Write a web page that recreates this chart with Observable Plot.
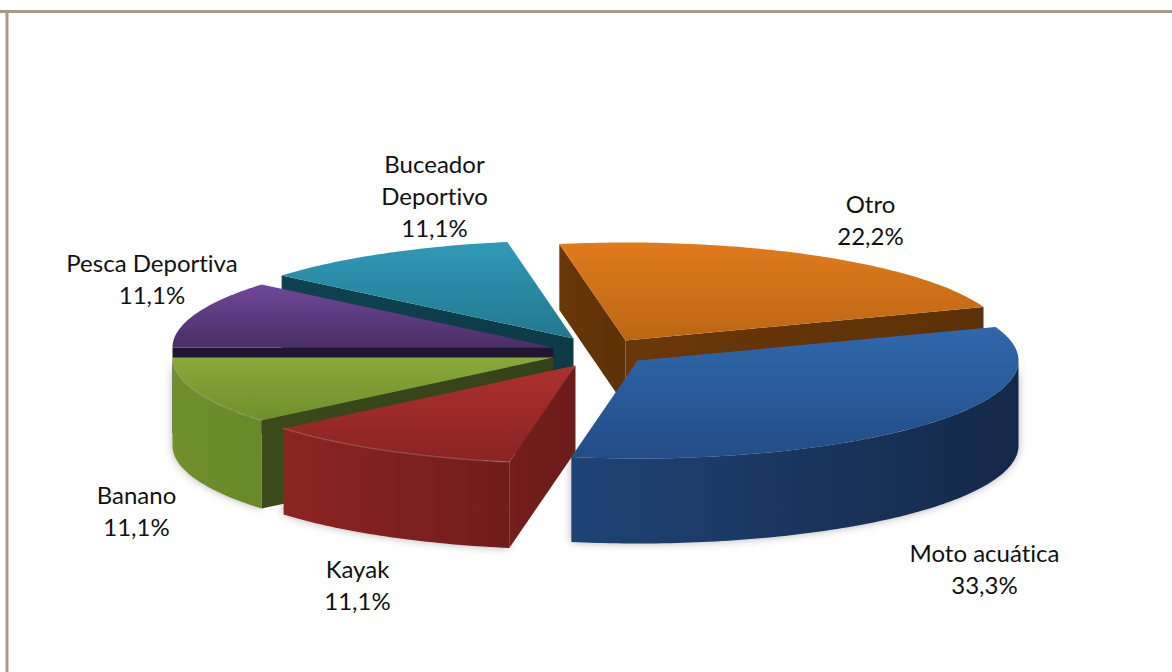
<!DOCTYPE html>
<html><head><meta charset="utf-8">
<script src="https://cdn.jsdelivr.net/npm/d3@7"></script>
<script src="https://cdn.jsdelivr.net/npm/@observablehq/plot@0.6"></script>
<style>html,body{margin:0;background:#fff}svg{display:block}svg text{font-variant-ligatures:none}</style>
</head><body><div id="chart"></div>
<script>
// Data
const categories = ["Otro","Moto acuática","Kayak","Banano","Pesca Deportiva","Buceador\nDeportivo"];
const percentages = [22.2,33.3,11.1,11.1,11.1,11.1];

// Layout / style (not data)
const W = 1172, H = 672, RX = 381, RY = 98, START = -10;
const apexX = [625,637,575,553,553,573];
const apexY = [340,360,365,357,347,338];
const depth = [66,85,86,88,86,86];
const labelX = [870,984,357,136,151.5,434];
const labelY = [218.5,567,583,509,277,194];
const palette = [
  {top:["#e07b1d","#bb6613"],wall:["#6a3708","#5e3208"],side:["#6a3708","#5c3107"]},
  {top:["#2f68ac","#234d86"],wall:["#1f4376","#142848"],side:["#1a3358","#14294a"]},
  {top:["#ad302e","#8a2422"],wall:["#8c2421","#701d1a"],side:["#751e1c","#6c1c19"]},
  {top:["#89aa39","#6f8f2d"],wall:["#6f902c","#688829"],side:["#3a4a1a","#34421a"]},
  {top:["#70479a","#4a2e66"],wall:["#4a2e66","#3a2450"],side:["#221433","#221433"]},
  {top:["#3099b7","#22788f"],wall:["#1b5e72","#124857"],side:["#0f4250","#0d3a47"]}
];
const highlight = [0,0,0.16,0.2,0,0];
const paintOrder = [5,4,3,0,2,1];

const total = d3.sum(percentages);
let acc = START;
const slices = percentages.map((p,i)=>{
  const a0 = acc, a1 = acc + p/total*360; acc = a1;
  return {i,a0,a1,ax:apexX[i],ay:apexY[i],d:depth[i]};
});
const rad = t => t*Math.PI/180;
const rim = (s,t,dy=0) => ({x:s.ax+RX*Math.sin(rad(t)), y:s.ay-RY*Math.cos(rad(t))+dy});
const arc = (s,t0,t1,dy=0) => { const n=Math.max(2,Math.ceil(Math.abs(t1-t0))); return d3.range(n+1).map(k=>rim(s,t0+(t1-t0)*k/n,dy)); };
const faceVisible = normal => Math.cos(rad(normal)) < 0;

function radialWall(s,t){
  const r0=rim(s,t), r1=rim(s,t,s.d);
  return [{x:s.ax,y:s.ay},r0,r1,{x:s.ax,y:s.ay+s.d}];
}
function outerWall(s){
  const t0=Math.max(s.a0,90), t1=Math.min(s.a1,270);
  if(t1-t0<0.5) return null;
  return [...arc(s,t0,t1),...arc(s,t1,t0,s.d)];
}

// gradients
const defs = () => {
  const d = d3.create("svg:defs");
  const grad = (id,c,horizontal) => {
    const g=d.append("linearGradient").attr("id",id).attr("x1",0).attr("y1",0)
      .attr("x2",horizontal?1:0).attr("y2",horizontal?0:1);
    g.append("stop").attr("offset",0).attr("stop-color",c[0]);
    g.append("stop").attr("offset",1).attr("stop-color",c[1]);
  };
  palette.forEach((p,i)=>{
    grad("top"+i,p.top,false);
    grad("wall"+i,p.wall,true);
    grad("side"+i,p.side,true);
  });
  return d.node();
};

const common = {x:"x",y:"y",curve:"linear-closed",stroke:"none"};
const marks = [
  defs,
  Plot.ruleY([11],{x1:0,x2:W,stroke:"#a59c85",strokeWidth:3}),
  Plot.ruleX([6.5],{y1:10,y2:H,stroke:"#a59c85",strokeWidth:3})
];

// soft shadows under the outer walls
slices.forEach(s=>{
  const w=outerWall(s);
  if(w) marks.push(Plot.line(w,{...common,fill:"#555",fillOpacity:0.45,imageFilter:"blur(4px)"}));
});

paintOrder.forEach(i=>{
  const s=slices[i];
  if(faceVisible(s.a0-90)) marks.push(Plot.line(radialWall(s,s.a0),{...common,fill:`url(#side${i})`}));
  if(faceVisible(s.a1+90)) marks.push(Plot.line(radialWall(s,s.a1),{...common,fill:`url(#side${i})`}));
  const w=outerWall(s);
  if(w) marks.push(Plot.line(w,{...common,fill:`url(#wall${i})`}));
  marks.push(Plot.line([{x:s.ax,y:s.ay},...arc(s,s.a0,s.a1)],{...common,fill:`url(#top${i})`}));
  if(w && highlight[i]) marks.push(Plot.line(arc(s,Math.max(s.a0,90),Math.min(s.a1,270)),{x:"x",y:"y",stroke:"#fff",strokeOpacity:highlight[i],strokeWidth:1.5}));
});

const labels = categories.map((c,i)=>({
  text:`${c}\n${percentages[i].toFixed(1).replace(".",",")}%`, x:labelX[i], y:labelY[i]
}));
marks.push(Plot.text(labels,{x:"x",y:"y",text:"text",fontFamily:"Lato, Carlito, sans-serif",fontSize:24,lineHeight:1.33,fill:"#111",textAnchor:"middle",lineAnchor:"middle"}));

const chart = Plot.plot({
  width:W,height:H,margin:0,
  x:{domain:[0,W],range:[0,W],axis:null},
  y:{domain:[0,H],range:[0,H],axis:null},
  marks
});
document.getElementById("chart").append(chart);
</script></body></html>
